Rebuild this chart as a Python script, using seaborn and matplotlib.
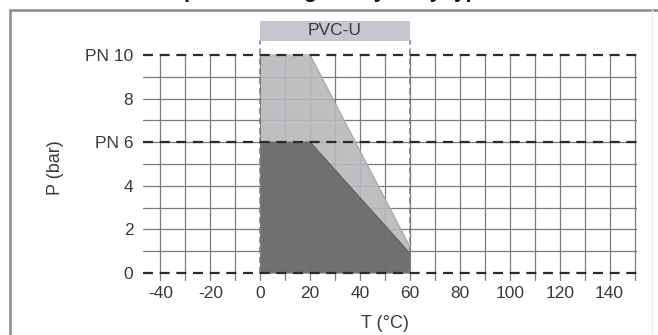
import matplotlib
matplotlib.use("Agg")
import matplotlib.pyplot as plt
import seaborn as sns
import pandas as pd

# ---- data ----
pn10_T = [0, 20, 60]
pn10_P = [10, 10, 1.2]
pn6_T = [0, 20, 60]
pn6_P = [6, 6, 0.9]
x_ticks = [-40, -20, 0, 20, 40, 60, 80, 100, 120, 140]
y_ticks = [0, 2, 4, 6, 8, 10]
y_labels = ["0", "2", "4", "PN 6", "8", "PN 10"]
pn_levels = [0, 6, 10]
material = "PVC-U"
material_range = [0, 60]
title_text = "Pressure / temperature diagram by body type"

sns.set_theme(style="white")
plt.rcParams["font.family"] = ["Liberation Sans", "DejaVu Sans"]

fig = plt.figure(figsize=(6.58, 3.35), dpi=100)
ax = fig.add_axes([143/658, 1-280.6/335, (637-143)/658, (280.6-20.1)/335])

xmin, xmax = -47, 151
ax.set_xlim(xmin, xmax)
ax.set_ylim(-0.35, 11.6)

# grid
grid_c = "#7c7c7c"
for gx in range(-40, 151, 10):
    ax.plot([gx, gx], [-0.3, 10], color=grid_c, lw=0.9, zorder=1)
for gy in range(1, 10):
    ax.plot([xmin, xmax], [gy, gy], color=grid_c, lw=0.9, zorder=1)

# filled regions
d10 = pd.DataFrame({"T": pn10_T, "P": pn10_P})
d6 = pd.DataFrame({"T": pn6_T, "P": pn6_P})
ax.fill_between(d10["T"], 0, d10["P"], color="#b8b8bc", alpha=0.9, lw=0, zorder=2)
ax.fill_between(d6["T"], 0, d6["P"], color="#69696c", alpha=0.92, lw=0, zorder=3)
sns.lineplot(data=d10, x="T", y="P", ax=ax, color="#a8a8ac", lw=0.8, zorder=2.5)
sns.lineplot(data=d6, x="T", y="P", ax=ax, color="#5e5e60", lw=0.8, zorder=3.5)

# vertical dashed limits
for vx in material_range:
    ax.plot([vx, vx], [0, 10.7], color="#7a7a7a", lw=1.1, ls=(0, (4, 2.5)), zorder=4)

# horizontal PN dashed lines
for py in pn_levels:
    ax.plot([xmin, xmax], [py, py], color="#2a2a2a", lw=1.6, ls=(0, (4.5, 3)), zorder=5)

# material band
ax.fill_between(material_range, 10.65, 11.55, color="#c6c6ce", lw=0, zorder=4)
ax.text(sum(material_range)/2, 11.1, material, ha="center", va="center",
        fontsize=12.5, color="#3a3a3a", zorder=6)

ax.set_xticks(x_ticks)
ax.set_xticklabels([str(v) for v in x_ticks])
ax.set_yticks(y_ticks)
ax.set_yticklabels(y_labels)
ax.tick_params(axis="both", length=0, labelsize=12.5, labelcolor="#3a3a3a")
ax.tick_params(axis="x", pad=4)
ax.tick_params(axis="y", pad=7)
for s in ax.spines.values():
    s.set_visible(False)
ax.set_xlabel("")
ax.set_ylabel("")
ax.patch.set_alpha(0)

fig.text(385/658, 1-323/335, "T (°C)", ha="center", va="center", fontsize=13, color="#3a3a3a")
fig.text(55/658, 1-168/335, "P (bar)", ha="center", va="center", rotation=90,
         fontsize=13, color="#3a3a3a")

# figure frame and cut-off title
fig.add_artist(plt.Line2D([10/658, 10/658], [1-10/335, -0.05], transform=fig.transFigure,
                          color="#8c8c8c", lw=1.8))
fig.add_artist(plt.Line2D([10/658, 1.0], [1-10/335, 1-10/335], transform=fig.transFigure,
                          color="#8c8c8c", lw=1.8))
fig.add_artist(plt.Line2D([652/658, 652/658], [1-10/335, -0.05], transform=fig.transFigure,
                          color="#eeeeee", lw=1.0))
fig.text(40/658, 1+8/335, title_text, ha="left", va="center", fontsize=15,
         fontweight="bold", color="#111111")

fig.savefig("out.png", dpi=100)
